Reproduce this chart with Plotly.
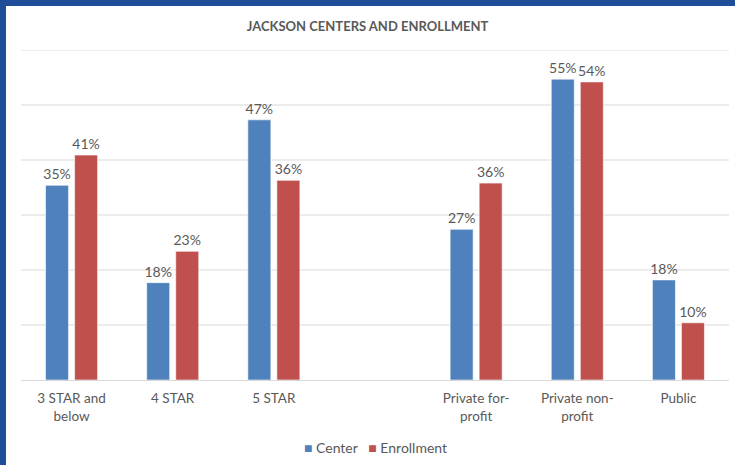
import plotly.graph_objects as go

categories = ["3 STAR and<br>below", "4 STAR", "5 STAR", "", "Private for-<br>profit", "Private non-<br>profit", "Public"]
positions = [0, 1, 2, 4, 5, 6]
bar_categories = ["3 STAR and below", "4 STAR", "5 STAR", "Private for-profit", "Private non-profit", "Public"]
center = [35.4, 17.7, 47.3, 27.4, 54.7, 18.2]
enrollment = [40.9, 23.4, 36.3, 35.8, 54.2, 10.4]
center_labels = ["35%", "18%", "47%", "27%", "55%", "18%"]
enrollment_labels = ["41%", "23%", "36%", "36%", "54%", "10%"]
series_names = ["Center", "Enrollment"]
series_colors = ["#4F81BD", "#C0504D"]
y_gridlines = [10, 20, 30, 40, 50, 60]

W, H = 735, 465
L, R, T, B = 21, 6, 50, 85
pw, ph = W - L - R, H - T - B

font_family = "Lato, 'Open Sans', sans-serif"
grey = "#595959"
gridc = "#D9D9D9"

fig = go.Figure()
for name, vals, labels, color in zip(series_names, [center, enrollment],
                                     [center_labels, enrollment_labels], series_colors):
    fig.add_trace(go.Bar(
        x=positions, y=vals, name=name, text=labels,
        textposition="outside", cliponaxis=False, constraintext="none",
        textfont=dict(size=14, color=grey, family=font_family),
        marker=dict(color=color, line=dict(color="rgba(255,255,255,0.6)", width=1)),
        hovertext=bar_categories, showlegend=False,
    ))

def px_x(p):
    return (p - L) / pw

def px_y(p):
    return (H - B - p) / ph

legend_text = "   ".join(
    f"<span style='color:{c}'>■</span> {n}" for n, c in zip(series_names, series_colors)
)

border = "#1F4E99"
shapes = [
    dict(type="line", xref="paper", yref="y", x0=0, x1=1, y0=g, y1=g,
         line=dict(color=gridc, width=1), layer="below")
    for g in y_gridlines
]
shapes += [
    dict(type="rect", xref="paper", yref="paper", x0=px_x(0), x1=px_x(6), y0=px_y(H), y1=px_y(0),
         fillcolor=border, line=dict(width=0), layer="above"),
    dict(type="rect", xref="paper", yref="paper", x0=px_x(0), x1=px_x(W), y0=px_y(6), y1=px_y(0),
         fillcolor=border, line=dict(width=0), layer="above"),
]

fig.update_layout(
    width=W, height=H,
    margin=dict(l=L, r=R, t=T, b=B),
    paper_bgcolor="white", plot_bgcolor="white",
    barmode="group", bargap=0.426, bargroupgap=0.207,
    font=dict(family=font_family, color=grey, size=14),
    title=dict(text="<b>JACKSON CENTERS AND ENROLLMENT</b>", x=0.5, xanchor="center",
               y=1 - 26 / H, yanchor="middle",
               font=dict(size=13, color=grey, family=font_family)),
    xaxis=dict(range=[-0.5, 6.5], tickvals=list(range(7)), ticktext=categories,
               showgrid=False, zeroline=False, showline=True, linecolor=gridc,
               linewidth=1, ticks="", ticklabelstandoff=6,
               tickfont=dict(size=13.5, color=grey)),
    yaxis=dict(range=[0, 60], showticklabels=False,
               showgrid=False, zeroline=False, showline=False),
    showlegend=False,
    annotations=[dict(text=legend_text, xref="paper", yref="paper", x=0.5, xanchor="center",
                      y=px_y(447), yanchor="middle", showarrow=False,
                      font=dict(size=14, color=grey, family=font_family))],
    shapes=shapes,
)

fig.write_html("out.html")
